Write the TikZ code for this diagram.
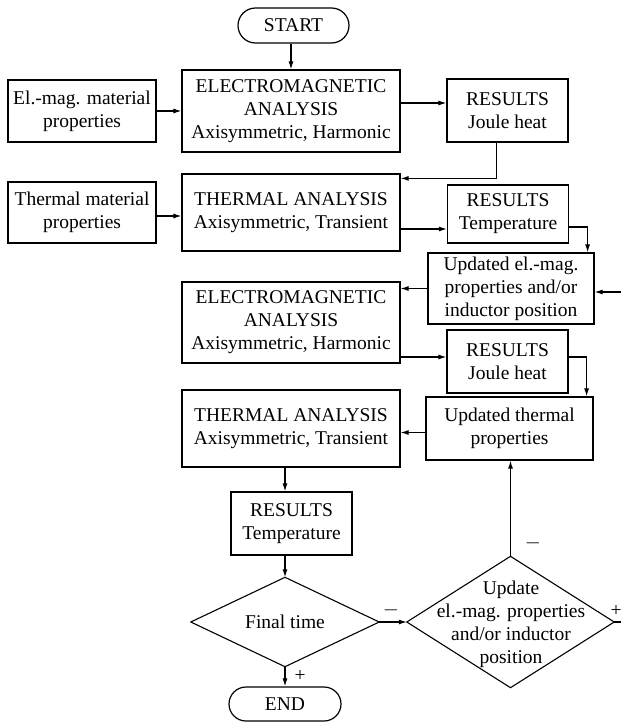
\documentclass[tikz,border=0pt]{standalone}
\usepackage{fontspec}
\setmainfont{Liberation Serif}
\usetikzlibrary{arrows.meta,shapes.misc}
\begin{document}
\begin{tikzpicture}[x=1pt,y=-1pt,
  every node/.style={font=\fontsize{19.5}{23}\selectfont},
  box/.style={draw,line width=1.2pt,rectangle,inner sep=0pt,align=center},
  term/.style={draw,line width=1.2pt,rounded rectangle,inner sep=0pt,align=center},
  hid/.style={inner sep=0pt,rectangle},
  arr/.style={line width=1.1pt,-{Latex[length=8pt,width=5pt]}},
  ln/.style={line width=1.1pt},
  lab/.style={inner sep=0pt}]
\useasboundingbox (0,0) rectangle (621,723);
% nodes
\node[term,minimum width=111,minimum height=35] (start) at (293.5,25.5) {START};
\node[box,minimum width=218,minimum height=82] (em1) at (291,111) {ELECTROMAGNETIC\\ANALYSIS\\Axisymmetric, Harmonic};
\node[box,minimum width=148,minimum height=62] (elm) at (82,111) {El.-mag. material\\properties};
\node[box,minimum width=121,minimum height=63] (r1) at (507.5,110.5) {RESULTS\\Joule heat};
\node[box,minimum width=148,minimum height=61] (tmp) at (82,212.5) {Thermal material\\properties};
\node[box,minimum width=218,minimum height=77] (t1) at (291,212.5) {THERMAL ANALYSIS\\Axisymmetric, Transient};
\node[box,minimum width=121,minimum height=58] (r2) at (508,214) {RESULTS\\Temperature};
\node[box,minimum width=166,minimum height=71] (uem) at (511,288.5) {Updated el.-mag.\\properties and/or\\inductor position};
\node[box,minimum width=218,minimum height=81] (em2) at (291,322.5) {ELECTROMAGNETIC\\ANALYSIS\\Axisymmetric, Harmonic};
\node[box,minimum width=121,minimum height=63] (r3) at (507.5,361.5) {RESULTS\\Joule heat};
\node[box,minimum width=167,minimum height=63] (ut) at (509.5,428.5) {Updated thermal\\properties};
\node[box,minimum width=218,minimum height=77] (t2) at (291,428.5) {THERMAL ANALYSIS\\Axisymmetric, Transient};
\node[box,minimum width=121,minimum height=63] (r4) at (291.5,523.5) {RESULTS\\Temperature};
\node[hid,minimum width=188,minimum height=89] (ft) at (285,622) {};
\draw[line width=1.1pt] (ft.north) -- (ft.east) -- (ft.south) -- (ft.west) -- cycle;
\node[lab] (ftt) at (ft.center) {Final time};
\node[hid,minimum width=207,minimum height=131] (ud) at (510.5,622) {};
\draw[line width=1.1pt] (ud.north) -- (ud.east) -- (ud.south) -- (ud.west) -- cycle;
\node[lab,align=center] (udt) at (511,624) {Update\\el.-mag. properties\\and/or inductor\\position};
\node[term,minimum width=112,minimum height=34] (end) at (285,704) {END};
\coordinate (in1) at (621,292);
\coordinate (out1) at (621,622);
% labels
\node[lab] (m1) at (391,610) {$-$};
\node[lab] (p1) at (616,611) {+};
\node[lab] (m2) at (533,543) {$-$};
\node[lab] (p2) at (300,676) {+};
% connectors
\draw[arr] (em1.north |- start.south) -- (em1.north);
\draw[arr] (elm.east) -- (elm.east -| em1.west);
\draw[arr] ([yshift=8pt]em1.east) -- ([yshift=8pt]em1.east -| r1.west);
\draw[arr] ([xshift=-11pt]r1.south) |- ([yshift=-5pt]t1.north east);
\draw[arr] ([yshift=-3.5pt]tmp.east) -- ([yshift=-3.5pt]tmp.east -| t1.west);
\draw[arr] ([yshift=-16.5pt]t1.east) -- ([yshift=-16.5pt]t1.east -| r2.west);
\draw[arr] ([yshift=-13pt]r2.east) -| ([xshift=-7pt]uem.north east);
\draw[arr] (in1) -- (in1 -| uem.east);
\draw[arr] (uem.west) -- (uem.west -| em2.east);
\draw[arr] ([yshift=-34.5pt]em2.east) -- ([yshift=-34.5pt]em2.east -| r3.west);
\draw[arr] ([yshift=4.5pt]r3.east) -| ([xshift=-7pt]ut.north east);
\draw[arr] ([yshift=-4pt]ut.west) -- ([yshift=-4pt]ut.west -| t2.east);
\draw[arr] (ft.north |- t2.south) -- (ft.north |- r4.north);
\draw[arr] (ft.north |- r4.south) -- (ft.north);
\draw[arr] (ft.east) -- (ud.west);
\draw[arr] (ft.south) -- (end.north);
\draw[arr] (ud.north) -- (ud.north |- ut.south);
\draw[ln] (ud.east) -- (out1);
\end{tikzpicture}
\end{document}
